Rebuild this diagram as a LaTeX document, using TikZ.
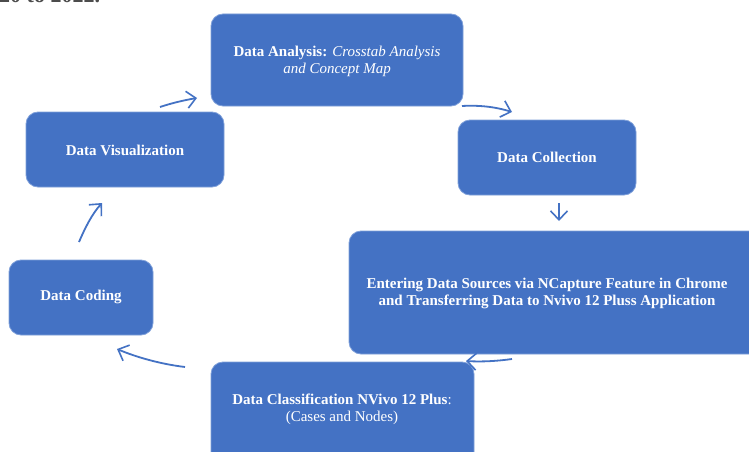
\documentclass[tikz,border=0pt]{standalone}
\usepackage{fontspec}
\setmainfont{Liberation Serif}
\usetikzlibrary{arrows.meta}
\definecolor{boxblue}{HTML}{4472C4}
\definecolor{edgeblue}{HTML}{7FA0DA}
\tikzset{
  box/.style={draw=edgeblue, line width=0.8pt, fill=boxblue, rounded corners=12pt, inner sep=0pt},
  boxtext/.style={text=white, align=center, font=\fontsize{15}{17}\selectfont},
  flow/.style={draw=boxblue, line width=1.8pt, -{Straight Barb[length=9pt,width=17pt,line width=1.6pt]}},
}
\begin{document}
\begin{tikzpicture}[x=1pt,y=-1pt]
\useasboundingbox (0,0) rectangle (749,452);
\clip (0,0) rectangle (749,452);
\fill[white] (0,0) rectangle (749,452);
% clipped line of text at the top
\node[anchor=base west, inner sep=0pt, text=black!70, font=\fontsize{22}{24}\selectfont\bfseries] (toptext) at (-1,2.5) {20 to 2022.};
% boxes
\node[box, minimum width=252pt, minimum height=92pt] (ana) at (337,60) {};
\node[boxtext] (anat) at (337,61) {\textbf{Data Analysis:} \textit{Crosstab Analysis}\\ \textit{and Concept Map}};
\node[box, minimum width=198pt, minimum height=75pt] (vis) at (125,149.5) {};
\node[boxtext] (vist) at (125,150) {\textbf{Data Visualization}};
\node[box, minimum width=178pt, minimum height=75pt] (col) at (547,157.5) {};
\node[boxtext] (colt) at (547,157) {\textbf{Data Collection}};
\node[box, minimum width=421pt, minimum height=123pt] (ent) at (559.5,292.5) {};
\node[boxtext] (entt) at (547,293) {\textbf{Entering Data Sources via NCapture Feature in Chrome}\\ \textbf{and Transferring Data to Nvivo 12 Pluss Application}};
\node[box, minimum width=263pt, minimum height=108pt] (cla) at (342.5,416) {};
\node[boxtext] (clat) at (342,409.5) {\textbf{Data Classification NVivo 12 Plus}:\\ (Cases and Nodes)};
\node[box, minimum width=144pt, minimum height=75pt] (cod) at (81,297.5) {};
\node[boxtext] (codt) at (81,297) {\textbf{Data Coding}};
% arrow end points
\coordinate (a1s) at (160,107); \coordinate (a1e) at (197,98);
\coordinate (a2s) at (462,106); \coordinate (a2e) at (512,112);
\coordinate (a3s) at (559,203); \coordinate (a3e) at (559,221);
\coordinate (a4s) at (512,359); \coordinate (a4e) at (466,361);
\coordinate (a5s) at (185,367); \coordinate (a5e) at (117,349);
\coordinate (a6s) at (79,242);  \coordinate (a6e) at (102,203);
% connectors
\draw[flow] (a1s) .. controls (172,103) and (185,100) .. (a1e);
\draw[flow] (a2s) .. controls (480,105) and (496,107) .. (a2e);
\draw[flow] (a3s) -- (a3e);
\draw[flow] (a4s) .. controls (498,361) and (482,362) .. (a4e);
\draw[flow] (a5s) .. controls (160,364) and (136,357) .. (a5e);
\draw[flow] (a6s) .. controls (85,228) and (92,214) .. (a6e);
\end{tikzpicture}
\end{document}
